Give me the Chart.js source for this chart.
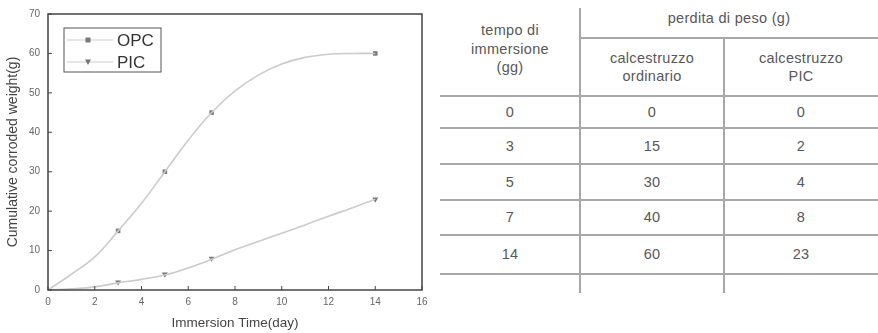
<!DOCTYPE html>
<html>
<head>
<meta charset="utf-8">
<script src="https://cdn.jsdelivr.net/npm/chart.js@4/dist/chart.umd.min.js"></script>
<style>
  html, body { margin: 0; padding: 0; background: #fff; }
  body { width: 878px; height: 333px; position: relative; overflow: hidden; font-family: "Liberation Sans", Arial, sans-serif; }
  #chartBox { position: absolute; left: 0; top: 0; width: 440px; height: 333px; }
  #tableBox { position: absolute; left: 440px; top: 0; width: 438px; height: 333px; color: #585858; font-size: 14.5px; letter-spacing: 0.3px; }
  .hl { position: absolute; height: 2px; background: #a8a8a8; }
  .vl { position: absolute; width: 2px; background: #a8a8a8; }
  .cell { position: absolute; display: flex; align-items: center; justify-content: center; text-align: center; line-height: 18.5px; }
</style>
</head>
<body>
<div id="chartBox"><canvas id="c" width="440" height="333"></canvas></div>
<div id="tableBox"></div>
<script>
// ---- chart data ----
const markerDays = [3, 5, 7, 14];
const opcMarkers = [15, 30, 45, 60];
const picMarkers = [2, 4, 8, 23];
// smooth curves
const curveDays = [0, 1, 2, 3, 4, 5, 6, 7, 8, 9, 10, 11, 12, 13, 14];
const opcCurve  = [0, 4, 8.4, 15, 22, 30, 38, 45, 50.5, 54.5, 57.3, 59, 59.8, 60, 60];
const picCurve  = [0, 0.3, 0.8, 1.8, 2.7, 3.8, 5.6, 7.8, 10.2, 12.3, 14.4, 16.5, 18.7, 20.8, 23];
const xTicks = [0, 2, 4, 6, 8, 10, 12, 14, 16];
const seriesNames = ['OPC', 'PIC'];

// ---- table data ----
const tableHeadTime = ['tempo di', 'immersione', '(gg)'];
const tableHeadLoss = 'perdita di peso (g)';
const tableHeadOPC = ['calcestruzzo', 'ordinario'];
const tableHeadPIC = ['calcestruzzo', 'PIC'];
const tableDays = [0, 3, 5, 7, 14];
const tableOPC = [0, 15, 30, 40, 60];
const tablePIC = [0, 2, 4, 8, 23];

const pts = (xs, ys) => xs.map((x, i) => ({x: x, y: ys[i]}));

const AXIS = '#444';
const CURVE = '#cbcbcb';
const MARK = '#777';
const FONT = '"Liberation Sans", Arial, sans-serif';

const framePlugin = {
  id: 'frame',
  afterDatasetsDraw(chart) {
    const {ctx, chartArea: a, scales} = chart;
    ctx.save();
    ctx.strokeStyle = AXIS;
    ctx.lineWidth = 1.5;
    ctx.strokeRect(a.left, a.top, a.right - a.left, a.bottom - a.top);
    ctx.lineWidth = 1;
    ctx.beginPath();
    scales.x.ticks.forEach(t => {
      const px = scales.x.getPixelForValue(t.value);
      ctx.moveTo(px, a.bottom); ctx.lineTo(px, a.bottom - 4);
    });
    scales.y.ticks.forEach(t => {
      const py = scales.y.getPixelForValue(t.value);
      ctx.moveTo(a.left, py); ctx.lineTo(a.left + 4, py);
    });
    ctx.stroke();
    // legend
    const lx = a.left + 16, ly = a.top + 14;
    ctx.strokeStyle = '#555';
    ctx.lineWidth = 1;
    ctx.strokeRect(lx, ly, 97, 44);
    const styles = ['rect', 'tri'];
    seriesNames.forEach((name, i) => {
      const y = ly + 12 + i * 22;
      ctx.strokeStyle = CURVE; ctx.lineWidth = 1.2;
      ctx.beginPath(); ctx.moveTo(lx + 3, y); ctx.lineTo(lx + 49, y); ctx.stroke();
      ctx.fillStyle = MARK;
      const mx = lx + 24;
      if (styles[i] === 'rect') {
        ctx.fillRect(mx - 2.5, y - 2.5, 5, 5);
      } else {
        ctx.beginPath(); ctx.moveTo(mx - 3, y - 2.5); ctx.lineTo(mx + 3, y - 2.5); ctx.lineTo(mx, y + 3); ctx.closePath(); ctx.fill();
      }
      ctx.fillStyle = '#333';
      ctx.font = '17px ' + FONT;
      ctx.textBaseline = 'middle';
      ctx.textAlign = 'left';
      ctx.fillText(name, lx + 53, y + 1);
    });
    ctx.restore();
  }
};

new Chart(document.getElementById('c'), {
  type: 'scatter',
  data: {
    datasets: [
      { label: seriesNames[0] + ' curve', data: pts(curveDays, opcCurve), showLine: true, borderColor: CURVE, borderWidth: 1.6, pointRadius: 0, tension: 0.4, fill: false },
      { label: seriesNames[1] + ' curve', data: pts(curveDays, picCurve), showLine: true, borderColor: CURVE, borderWidth: 1.6, pointRadius: 0, tension: 0.4, fill: false },
      { label: seriesNames[0], data: pts(markerDays, opcMarkers), showLine: false, pointStyle: 'rect', pointRadius: 3.2, backgroundColor: MARK, borderColor: MARK, borderWidth: 0 },
      { label: seriesNames[1], data: pts(markerDays, picMarkers), showLine: false, pointStyle: 'triangle', rotation: 180, pointRadius: 3.4, backgroundColor: MARK, borderColor: MARK, borderWidth: 0 }
    ]
  },
  options: {
    responsive: false,
    animation: false,
    layout: { padding: { left: 0, right: 18, top: 13, bottom: 0 } },
    plugins: { legend: { display: false }, tooltip: { enabled: false } },
    scales: {
      x: {
        type: 'linear', min: 0, max: 16,
        afterBuildTicks: s => { s.ticks = xTicks.map(v => ({value: v})); },
        afterFit: s => { s.height = 43; },
        grid: { display: false, drawTicks: false },
        border: { display: false },
        ticks: { color: '#666', font: { size: 10, family: FONT }, padding: 6, maxRotation: 0 },
        title: { display: true, text: 'Immersion Time(day)', color: '#444', font: { size: 13.5, family: FONT }, padding: { top: 4, bottom: 2 } }
      },
      y: {
        type: 'linear', min: 0, max: 70,
        ticks: { stepSize: 10, color: '#666', font: { size: 10, family: FONT }, padding: 8 },
        afterFit: s => { s.width = 48; },
        grid: { display: false, drawTicks: false },
        border: { display: false },
        title: { display: true, text: 'Cumulative corroded weight(g)', color: '#444', font: { size: 14, family: FONT }, padding: { top: 5, bottom: 2 } }
      }
    }
  },
  plugins: [framePlugin]
});

// ---- table ----
const tb = document.getElementById('tableBox');
function add(cls, style, html) {
  const d = document.createElement('div');
  d.className = cls;
  Object.assign(d.style, style);
  if (html !== undefined) d.innerHTML = html;
  tb.appendChild(d);
}
const colX = [0, 140, 284, 438];      // column edges relative to table box
const headBottom = 96;
const subTop = 38;
const rowEdges = [96, 128, 164, 200, 235, 274];
const tableBottom = 293;

// lines
add('hl', { left: colX[1] + 'px', width: (colX[3] - colX[1]) + 'px', top: (subTop - 1) + 'px' });
rowEdges.forEach(y => add('hl', { left: '0px', width: '438px', top: (y - 1) + 'px' }));
add('vl', { left: (colX[1] - 1) + 'px', top: '8px', height: (tableBottom - 8) + 'px' });
add('vl', { left: (colX[2] - 1) + 'px', top: subTop + 'px', height: (tableBottom - subTop) + 'px' });

// headers
add('cell', { left: colX[0] + 'px', width: (colX[1] - colX[0]) + 'px', top: '16px', height: '66px' }, tableHeadTime.join('<br>'));
add('cell', { left: colX[1] + 'px', width: (colX[3] - colX[1]) + 'px', top: '2px', height: '32px' }, tableHeadLoss);
add('cell', { left: colX[1] + 'px', width: (colX[2] - colX[1]) + 'px', top: subTop + 'px', height: (headBottom - subTop) + 'px' }, tableHeadOPC.join('<br>'));
add('cell', { left: colX[2] + 'px', width: (colX[3] - colX[2]) + 'px', top: subTop + 'px', height: (headBottom - subTop) + 'px' }, tableHeadPIC.join('<br>'));

// body
tableDays.forEach((d, i) => {
  const top = rowEdges[i], h = rowEdges[i + 1] - rowEdges[i];
  [d, tableOPC[i], tablePIC[i]].forEach((v, j) => {
    add('cell', { left: colX[j] + 'px', width: (colX[j + 1] - colX[j]) + 'px', top: top + 'px', height: h + 'px' }, String(v));
  });
});
</script>
</body>
</html>
